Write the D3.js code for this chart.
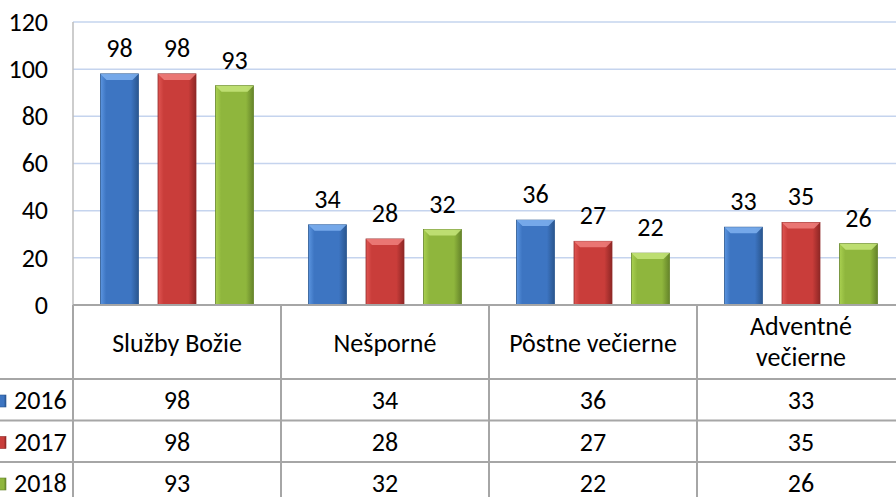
<!DOCTYPE html>
<html>
<head>
<meta charset="utf-8">
<script src="https://cdn.jsdelivr.net/npm/d3@7"></script>
<style>
  body { margin: 0; background: #fff; }
  text { font-family: Carlito, Lato, sans-serif; fill: #000; }
</style>
</head>
<body>
<div id="container"></div>
<script>
/* DATA */
const categories = ["Služby Božie", "Nešporné", "Pôstne večierne", "Adventné večierne"];
const categoryLines = [["Služby Božie"], ["Nešporné"], ["Pôstne večierne"], ["Adventné", "večierne"]];
const years = ["2016", "2017", "2018"];
const values2016 = [98, 34, 36, 33];
const values2017 = [98, 28, 27, 35];
const values2018 = [93, 32, 22, 26];
const yTicks = [0, 20, 40, 60, 80, 100, 120];

const seriesValues = [values2016, values2017, values2018];
const colors = [
  { base: "#3d75c2", light: "#5b95e0", dark: "#2a568f", top: "#7fb2f0" },
  { base: "#c93d3a", light: "#e05552", dark: "#8f2725", top: "#f0807e" },
  { base: "#8fb63d", light: "#a9d050", dark: "#65842a", top: "#c6e57a" }
];

/* CONSTANTS */
const width = 896, height = 497;
const left = 73, catWidth = 208, plotTop = 22, plotBottom = 305;
const rowH = 41.5, headerBottom = 379;
const fontSize = "26px";

const svg = d3.select("#container").append("svg")
  .attr("width", width).attr("height", height);

// SCALES
const xScale = d3.scaleBand()
  .domain(categories)
  .range([left, left + catWidth * categories.length]);

const xInner = d3.scaleBand()
  .domain(years)
  .range([0, catWidth])
  .paddingInner(0.34)
  .paddingOuter(0.478);

const yScale = d3.scaleLinear()
  .domain([0, 120])
  .range([plotBottom, plotTop]);

// GRADIENTS
const defs = svg.append("defs");
colors.forEach((c, i) => {
  const g = defs.append("linearGradient").attr("id", "grad" + i)
    .attr("x1", 0).attr("x2", 1).attr("y1", 0).attr("y2", 0);
  g.append("stop").attr("offset", "0%").attr("stop-color", c.light);
  g.append("stop").attr("offset", "15%").attr("stop-color", c.base);
  g.append("stop").attr("offset", "80%").attr("stop-color", c.base);
  g.append("stop").attr("offset", "100%").attr("stop-color", c.dark);
});

// GRIDLINES
svg.append("g")
  .selectAll("line")
  .data(yTicks.filter(d => d > 0))
  .join("line")
  .attr("x1", left).attr("x2", width)
  .attr("y1", d => yScale(d)).attr("y2", d => yScale(d))
  .attr("stroke", "#c5d4ee").attr("stroke-width", 1.5);

// Y AXIS LINE
svg.append("line")
  .attr("x1", left).attr("x2", left)
  .attr("y1", plotTop).attr("y2", plotBottom)
  .attr("stroke", "#bdbdbd").attr("stroke-width", 1.5);

// Y AXIS LABELS
const yAxis = d3.axisLeft(yScale).tickValues(yTicks).tickSize(0).tickPadding(25);
const yAxisGroup = svg.append("g")
  .attr("transform", `translate(${left}, 0)`)
  .call(yAxis);
yAxisGroup.select(".domain").remove();
yAxisGroup.selectAll("text")
  .style("font-size", fontSize)
  .style("font-family", "Carlito, Lato, sans-serif")
  .attr("fill", "#000");

// BARS
const bevel = 6;
const bars = [];
categories.forEach((cat, ci) => {
  years.forEach((yr, si) => {
    bars.push({ cat, yr, si, value: seriesValues[si][ci] });
  });
});

const barG = svg.append("g")
  .selectAll("g")
  .data(bars)
  .join("g")
  .attr("transform", d => `translate(${xScale(d.cat) + xInner(d.yr)}, 0)`);

const bw = xInner.bandwidth();

barG.append("rect")
  .attr("x", 0)
  .attr("y", d => yScale(d.value))
  .attr("width", bw)
  .attr("height", d => plotBottom - yScale(d.value))
  .attr("fill", d => `url(#grad${d.si})`)
  .attr("stroke", d => colors[d.si].dark)
  .attr("stroke-width", 0.8);

barG.append("polygon")
  .attr("points", d => {
    const y = yScale(d.value);
    return [[0, y], [bw, y], [bw - bevel, y + bevel], [bevel, y + bevel]].join(" ");
  })
  .attr("fill", d => colors[d.si].top)
  .attr("opacity", 0.85);

// DATA LABELS
barG.append("text")
  .attr("x", bw / 2)
  .attr("y", d => yScale(d.value) - 17)
  .attr("text-anchor", "middle")
  .style("font-size", fontSize)
  .text(d => d.value);

// TABLE LINES
const tableColor = "#a6a6a6";
const rowLines = [headerBottom, headerBottom + rowH, headerBottom + 2 * rowH];
svg.append("line")
  .attr("x1", left).attr("x2", width)
  .attr("y1", plotBottom).attr("y2", plotBottom)
  .attr("stroke", tableColor).attr("stroke-width", 2);
svg.append("g").selectAll("line")
  .data(rowLines)
  .join("line")
  .attr("x1", 0).attr("x2", width)
  .attr("y1", d => d).attr("y2", d => d)
  .attr("stroke", tableColor).attr("stroke-width", 2);
svg.append("g").selectAll("line")
  .data(categories)
  .join("line")
  .attr("x1", d => xScale(d)).attr("x2", d => xScale(d))
  .attr("y1", plotBottom).attr("y2", height)
  .attr("stroke", tableColor).attr("stroke-width", 2);

// CATEGORY HEADER
const header = svg.append("g").selectAll("text")
  .data(categories)
  .join("text")
  .attr("text-anchor", "middle")
  .style("font-size", fontSize)
  .attr("transform", d => `translate(${xScale(d) + catWidth / 2}, 0)`);
header.each(function(d, i) {
  const lines = categoryLines[i];
  const sel = d3.select(this);
  const baseY = lines.length === 1 ? 352 : 335;
  lines.forEach((l, li) => {
    sel.append("tspan").attr("x", 0).attr("y", baseY + li * 31).text(l);
  });
});

// DATA ROWS
years.forEach((yr, si) => {
  const y = headerBottom + si * rowH + 30;
  svg.append("rect")
    .attr("x", -6).attr("y", y - 14)
    .attr("width", 12).attr("height", 12)
    .attr("fill", `url(#grad${si})`)
    .attr("stroke", colors[si].dark).attr("stroke-width", 0.6);
  svg.append("text")
    .attr("x", 14).attr("y", y)
    .style("font-size", fontSize)
    .text(yr);
  svg.append("g").selectAll("text")
    .data(categories)
    .join("text")
    .attr("x", d => xScale(d) + catWidth / 2)
    .attr("y", y)
    .attr("text-anchor", "middle")
    .style("font-size", fontSize)
    .text((d, ci) => seriesValues[si][ci]);
});
</script>
</body>
</html>
